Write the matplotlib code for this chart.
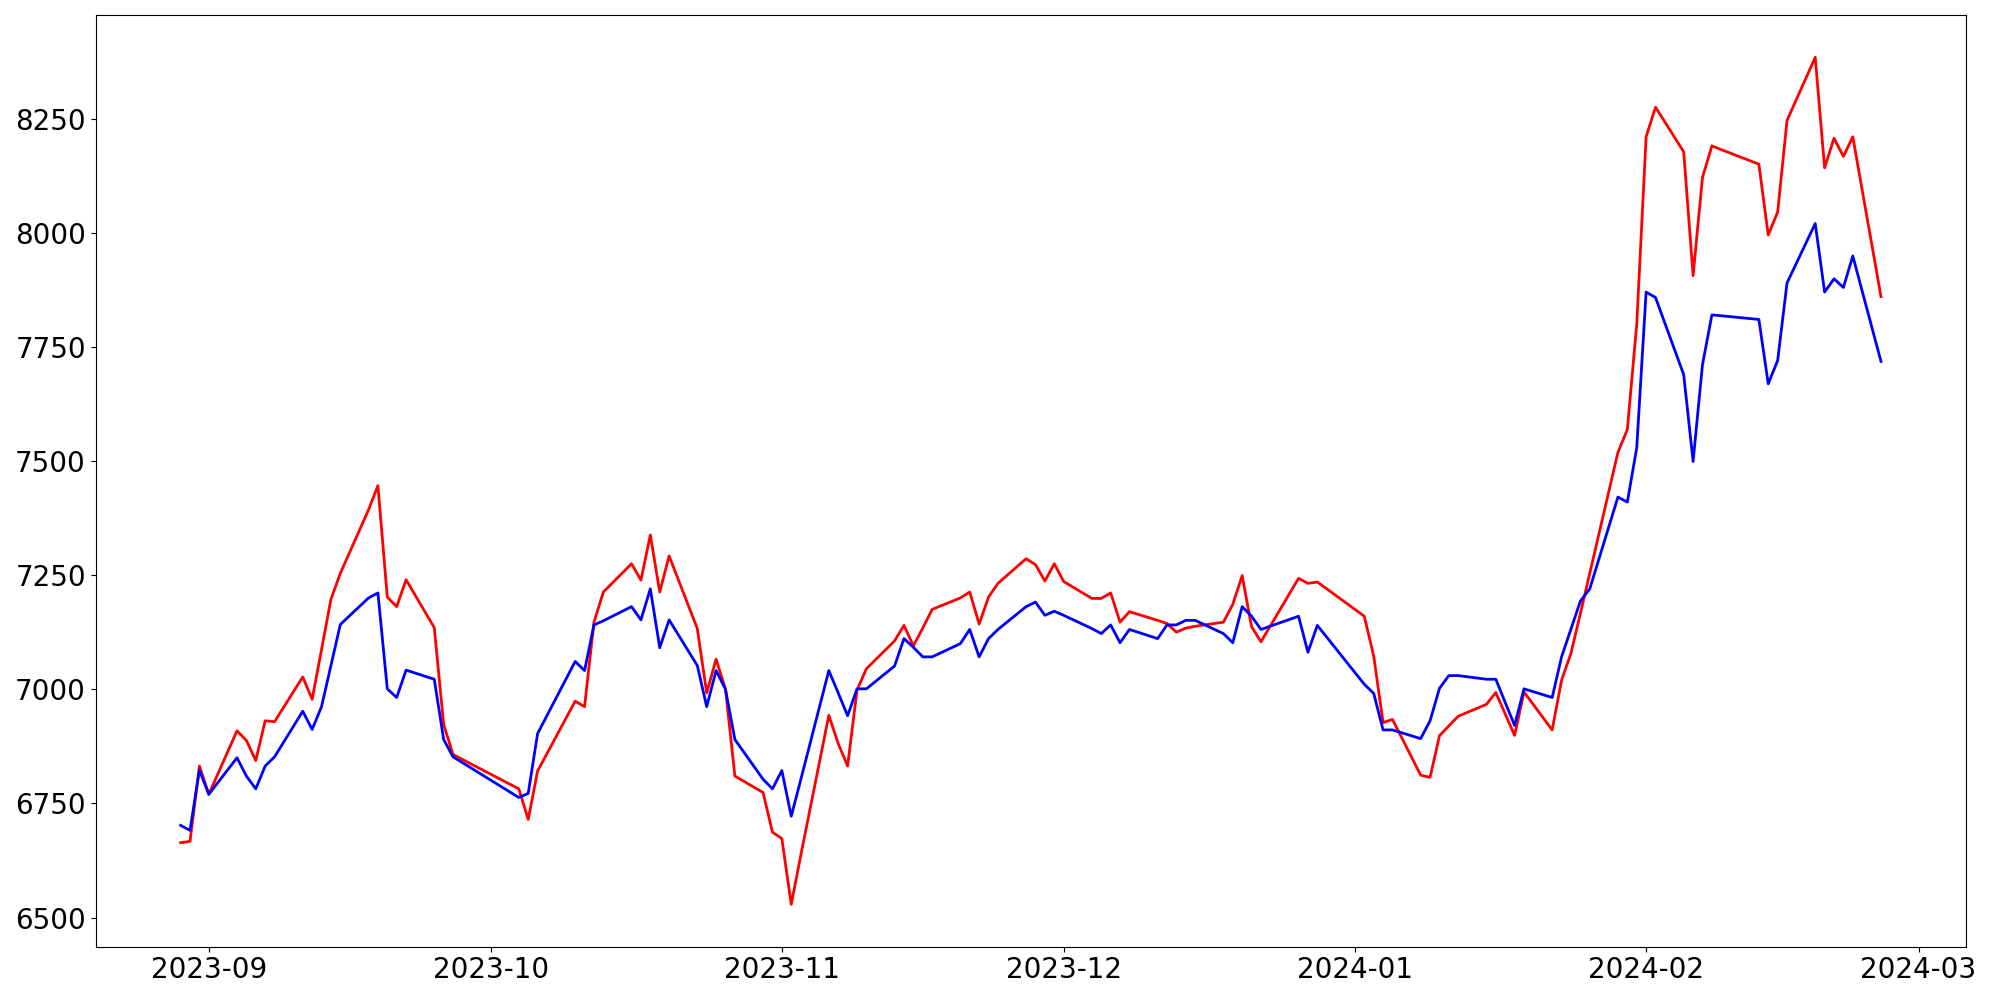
import matplotlib
matplotlib.use("Agg")
import matplotlib.pyplot as plt
import pandas as pd

# KRX trading days (Chuseok, Hangul day, Christmas, year-end, Seollal closed)
holidays = ['2023-09-28', '2023-09-29', '2023-10-02', '2023-10-03', '2023-10-09',
            '2023-12-25', '2023-12-29', '2024-01-01', '2024-02-09', '2024-02-12']
dates = pd.bdate_range('2023-08-29', '2024-02-26', freq='C', holidays=holidays)

red_values = [
    6664, 6667, 6832,
    6770, 6909, 6888, 6844, 6931, 6929, 7027, 6978, 7087, 7197, 7254,
    7393, 7446, 7202, 7181, 7240, 7135, 6923, 6857,
    6782, 6715, 6821, 6974, 6962, 7147, 7213, 7275, 7239, 7338, 7213, 7292,
    7133, 6992, 7066, 7000, 6810, 6774, 6687,
    6673, 6529, 6635, 6943, 6881, 6832, 6998, 7045, 7106, 7140, 7095, 7134,
    7175, 7200, 7213, 7143, 7202, 7232, 7286, 7273, 7237, 7275,
    7236, 7199, 7199, 7211, 7147, 7170, 7151, 7144, 7125, 7134, 7138,
    7147, 7186, 7249, 7137, 7104, 7243, 7232, 7235,
    7160, 7073, 6927, 6934, 6812, 6807, 6898, 6920, 6941, 6967, 6993, 6946,
    6899, 6994, 6911, 7020, 7079, 7166, 7254, 7519, 7569, 7799,
    8210, 8275, 8177, 7906, 8121, 8190, 8150, 7995, 8045, 8246,
    8384, 8142, 8207, 8167, 8210, 7860,
]

blue_values = [
    6702, 6691, 6823,
    6770, 6850, 6810, 6782, 6832, 6852, 6952, 6912, 6962, 7052, 7142,
    7200, 7211, 7001, 6982, 7042, 7022, 6890, 6852,
    6763, 6772, 6903, 7061, 7041, 7141, 7150, 7181, 7152, 7220, 7091, 7152,
    7052, 6962, 7041, 7000, 6890, 6803, 6782,
    6822, 6722, 6801, 7041, 6992, 6942, 7001, 7001, 7051, 7111, 7092, 7071,
    7071, 7100, 7131, 7071, 7111, 7131, 7181, 7191, 7162, 7171,
    7162, 7133, 7122, 7141, 7102, 7131, 7111, 7141, 7141, 7151, 7151,
    7122, 7102, 7181, 7160, 7131, 7160, 7081, 7140,
    7011, 6991, 6911, 6911, 6892, 6931, 7002, 7030, 7030, 7022, 7022, 6971,
    6921, 7001, 6982, 7071, 7132, 7193, 7220, 7421, 7410, 7529,
    7870, 7858, 7689, 7499, 7711, 7820, 7810, 7669, 7720, 7890,
    8020, 7870, 7899, 7880, 7949, 7718,
]

fig, ax = plt.subplots(figsize=(20, 10), dpi=100)

ax.plot(dates, red_values, color='red', linewidth=2)
ax.plot(dates, blue_values, color='blue', linewidth=2)

ax.tick_params(axis='both', labelsize=20)

fig.subplots_adjust(left=0.0478, right=0.983, top=0.985, bottom=0.0533)
fig.savefig('out.png')
